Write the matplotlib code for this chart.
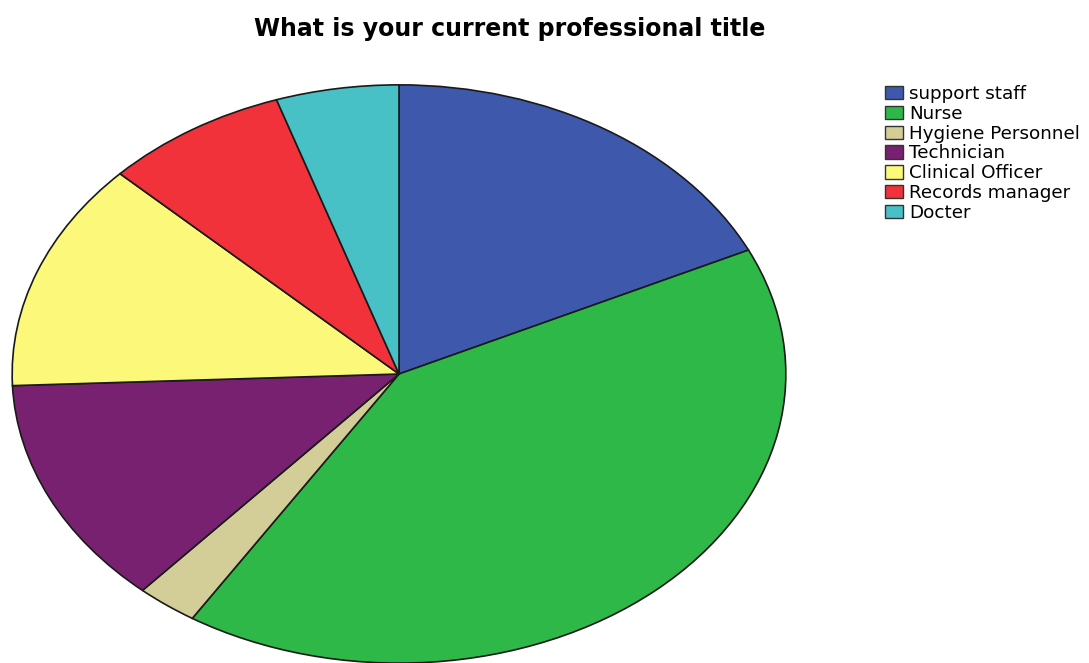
import matplotlib.pyplot as plt
from matplotlib.patches import Patch

plt.rcParams['font.family'] = ['DejaVu Sans']

titles = ["support staff", "Nurse", "Hygiene Personnel", "Technician",
          "Clinical Officer", "Records manager", "Docter"]
counts = [14, 32, 2, 10, 10, 6, 4]
colors = ["#3E58AC", "#2EB848", "#D3CE97", "#782170", "#FBF87A", "#F1323A", "#48C1C6"]

W, H = 1089, 663
fig = plt.figure(figsize=(W / 100, H / 100), dpi=100)

# pie is drawn as an ellipse: centre (399, 374) px, radii 388 x 290 px
cx, cy, rx, ry = 399, 374, 388, 290
ax = fig.add_axes([(cx - rx) / W, (H - cy - ry) / H, 2 * rx / W, 2 * ry / H])
ax.pie(counts, colors=colors, startangle=90, counterclock=False,
       wedgeprops=dict(edgecolor="#1a1a1a", linewidth=1.2))
ax.set_aspect('auto')
ax.set_xlim(-1.003, 1.003)
ax.set_ylim(-1.003, 1.003)
ax.axis('off')

fig.text(510 / W, 1 - 29 / H, "What is your current professional title",
         ha='center', va='center', fontsize=17, fontweight='bold')

handles = [Patch(facecolor=c, edgecolor="#333333", linewidth=1) for c in colors]
fig.legend(handles, titles, loc='upper left', bbox_to_anchor=(885 / W, 1 - 85 / H),
           frameon=False, fontsize=13.2, handlelength=1.0, handleheight=0.75,
           handletextpad=0.3, labelspacing=0.1, borderaxespad=0, borderpad=0)

fig.savefig("out.png", dpi=100)
